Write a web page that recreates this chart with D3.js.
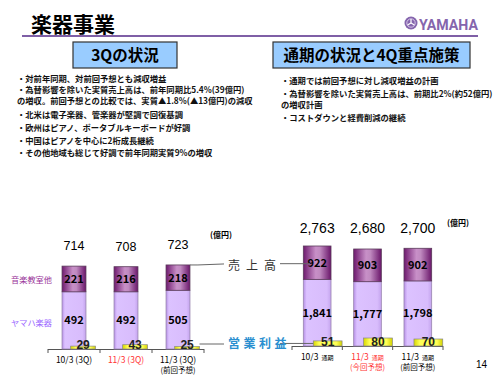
<!DOCTYPE html>
<html>
<head>
<meta charset="utf-8">
<script src="https://cdn.jsdelivr.net/npm/d3@7/dist/d3.min.js"></script>
<style>
  body { margin: 0; background: #fff; }
  svg { font-family: "Noto Sans CJK JP", "Noto Sans", sans-serif; }
</style>
</head>
<body>
<div id="chart"></div>
<script>
// 3Q (left) and full-year (right) figures, 億円
const leftCats = [["10/3 (3Q)"], ["11/3 (3Q)"], ["11/3 (3Q)", "(前回予想)"]]
const leftCatColors = ["#000", "#ff3333", "#000"]
const leftYamaha = [492, 492, 505]
const leftSchool = [221, 216, 218]
const leftTotal = [714, 708, 723]
const leftProfit = [29, 43, 25]

const rightCats = [["10/3", "通期"], ["11/3", "通期", "(今回予想)"], ["11/3", "通期", "(前回予想)"]]
const rightCatColors = ["#000", "#ff3333", "#000"]
const rightYamaha = [1841, 1777, 1798]
const rightSchool = [922, 903, 902]
const rightTotal = ["2,763", "2,680", "2,700"]
const rightTotalNum = [2763, 2680, 2700]
const rightProfit = [51, 80, 70]

const leftBullets = [
    ["・対前年同期、対前回予想とも減収増益"],
    ["・為替影響を除いた実質売上高は、前年同期比5.4%(39億円)", "の増収。前回予想との比較では、実質▲1.8%(▲13億円)の減収"],
    ["・北米は電子楽器、管楽器が堅調で回復基調"],
    ["・欧州はピアノ、ポータブルキーボードが好調"],
    ["・中国はピアノを中心に2桁成長継続"],
    ["・その他地域も総じて好調で前年同期実質9%の増収"]
]
const rightBullets = [
    ["・通期では前回予想に対し減収増益の計画"],
    ["・為替影響を除いた実質売上高は、前期比2%(約52億円)", "の増収計画"],
    ["・コストダウンと経費削減の継続"]
]

const svg = d3.select("#chart").append("svg")
    .attr("width", 500)
    .attr("height", 375)

const defs = svg.append("defs")
function hgrad(id, stops) {
    let g = defs.append("linearGradient").attr("id", id)
        .attr("x1", "0%").attr("x2", "100%").attr("y1", "0%").attr("y2", "0%")
    stops.forEach(s => g.append("stop").attr("offset", s[0]).attr("stop-color", s[1]))
}
hgrad("gSchool", [["0%", "#6e1a6e"], ["45%", "#c890c8"], ["60%", "#c08ac0"], ["100%", "#6a166a"]])
hgrad("gYamaha", [["0%", "#b690e6"], ["12%", "#dcc2ff"], ["85%", "#d8bcfc"], ["100%", "#c4a4ee"]])
hgrad("gProfit", [["0%", "#d6d600"], ["20%", "#ffff55"], ["80%", "#ffff55"], ["100%", "#d0d000"]])

// header
svg.append("text").attr("x", 31).attr("y", 32)
    .attr("font-size", 21).attr("font-weight", "bold").text("楽器事業")
svg.append("line").attr("x1", 22).attr("x2", 478).attr("y1", 36).attr("y2", 36)
    .attr("stroke", "#7f5fa6").attr("stroke-width", 2)

let logo = svg.append("g").attr("transform", "translate(411,23)")
logo.append("circle").attr("r", 6.5).attr("fill", "#8565ad")
logo.append("circle").attr("r", 4.2).attr("fill", "none").attr("stroke", "#e8dcf4").attr("stroke-width", 0.8)
d3.range(3).forEach(i => {
    logo.append("line").attr("y1", 0).attr("y2", -4)
        .attr("transform", `rotate(${i * 120})`)
        .attr("stroke", "#fff").attr("stroke-width", 1.2)
})
svg.append("text").attr("x", 419).attr("y", 30)
    .attr("font-family", "Liberation Sans Narrow, Roboto, sans-serif")
    .attr("font-size", 15).attr("font-weight", "bold").attr("fill", "#8565ad")
    .attr("textLength", 59).attr("lengthAdjust", "spacingAndGlyphs")
    .text("YAMAHA")

// headline boxes
const boxes = [
    { x: 73, w: 104, label: "3Qの状況" },
    { x: 273, w: 197, label: "通期の状況と4Q重点施策" }
]
boxes.forEach(b => {
    svg.append("rect").attr("x", b.x).attr("y", 42).attr("width", b.w).attr("height", 26)
        .attr("fill", "#99ccff").attr("stroke", "#333").attr("stroke-width", 1.2)
    svg.append("text").attr("x", b.x + b.w / 2).attr("y", 61)
        .attr("text-anchor", "middle").attr("font-size", 15.5).attr("font-weight", "bold")
        .text(b.label)
})

// bullet text
function bullets(list, x, ys) {
    let k = 0
    list.forEach(item => {
        item.forEach(line => {
            svg.append("text").attr("x", x).attr("y", ys[k++])
                .attr("font-size", 8.3).attr("font-weight", "bold").attr("fill", "#111")
                .text(line)
        })
    })
}
bullets(leftBullets, 17, [82, 92.5, 104, 118, 131, 143.5, 156])
bullets(rightBullets, 281, [84, 97, 108, 120.5])

// charts
function drawGroup(opt) {
    let x = d3.scaleBand().domain(d3.range(3)).range(opt.xr)
        .paddingInner(opt.pad).paddingOuter(opt.pad / 2)
    let y = d3.scaleLinear().domain([0, opt.ymax]).range([opt.base, opt.base - opt.h])
    let yp = d3.scaleLinear().domain([0, 100]).range([opt.base, opt.base - 10])
    let bw = x.bandwidth()
    let g = svg.append("g")

    // axis line with boundary ticks
    g.append("line").attr("x1", opt.xr[0]).attr("x2", opt.xr[1])
        .attr("y1", opt.base + 0.5).attr("y2", opt.base + 0.5).attr("stroke", "#555")
    d3.range(4).forEach(i => {
        let tx = opt.xr[0] + i * x.step()
        g.append("line").attr("x1", tx).attr("x2", tx)
            .attr("y1", opt.base).attr("y2", opt.base + 4).attr("stroke", "#555")
    })

    opt.yamaha.forEach((v, i) => {
        let s = opt.school[i]
        g.append("rect").attr("x", x(i)).attr("y", y(v)).attr("width", bw)
            .attr("height", opt.base - y(v))
            .attr("fill", "url(#gYamaha)").attr("stroke", "#9a86b0").attr("stroke-width", 0.8)
        g.append("rect").attr("x", x(i)).attr("y", y(v + s)).attr("width", bw)
            .attr("height", y(v) - y(v + s))
            .attr("fill", "url(#gSchool)").attr("stroke", "#5a3a5a").attr("stroke-width", 0.8)

        g.append("text").attr("x", x(i) + bw / 2).attr("y", (y(v) + opt.base) / 2 + 4)
            .attr("text-anchor", "middle").attr("font-size", 11).attr("font-weight", "bold")
            .text(d3.format(",")(v))
        g.append("text").attr("x", x(i) + bw / 2).attr("y", (y(v) + y(v + s)) / 2 + 4)
            .attr("text-anchor", "middle").attr("font-size", 11).attr("font-weight", "bold")
            .text(s)

        // total
        g.append("text").attr("x", x(i) + bw / 2)
            .attr("y", opt.totalY ? opt.totalY : y(opt.totalNum[i]) - 16)
            .attr("text-anchor", "middle").attr("font-size", opt.totalSize)
            .attr("font-family", "Liberation Sans, Arial, sans-serif")
            .attr("font-weight", opt.totalWeight)
            .text(opt.total[i])

        // operating profit
        let p = opt.profit[i]
        g.append("rect").attr("x", x(i) + bw * 0.36).attr("y", yp(p)).attr("width", bw * 1.04)
            .attr("height", opt.base - yp(p))
            .attr("fill", "url(#gProfit)").attr("stroke", "#888").attr("stroke-width", 0.7)
        g.append("text").attr("x", x(i) + bw * 0.88).attr("y", opt.base)
            .attr("text-anchor", "middle").attr("font-size", 12).attr("font-weight", "bold")
            .attr("font-family", "Liberation Sans, Arial, sans-serif")
            .attr("fill", "#222")
            .text(p)

        // category labels
        let c = opt.cats[i]
        let t = g.append("text").attr("x", x(i) + bw / 2).attr("y", opt.base + 14)
            .attr("text-anchor", "middle").attr("font-size", 8.5).attr("fill", opt.catColors[i])
        if (opt.fullYear) {
            t.append("tspan").text(c[0])
            t.append("tspan").attr("dx", 3).attr("font-size", 6).text(c[1])
            if (c[2]) {
                g.append("text").attr("x", x(i) + bw / 2).attr("y", opt.base + 24)
                    .attr("text-anchor", "middle").attr("font-size", 7.5).attr("fill", opt.catColors[i])
                    .text(c[2])
            }
        } else {
            t.text(c[0])
            if (c[1]) {
                g.append("text").attr("x", x(i) + bw / 2).attr("y", opt.base + 24)
                    .attr("text-anchor", "middle").attr("font-size", 7.5).attr("fill", opt.catColors[i])
                    .text(c[1])
            }
        }
    })
    return { x: x, y: y, yp: yp, bw: bw }
}

let L = drawGroup({
    xr: [48, 204], pad: 0.54, base: 349, ymax: 714, h: 83,
    yamaha: leftYamaha, school: leftSchool, total: leftTotal, totalNum: leftTotal,
    totalSize: 12.5, totalWeight: "normal",
    profit: leftProfit, cats: leftCats, catColors: leftCatColors, fullYear: false
})
let R = drawGroup({
    xr: [292, 443], pad: 0.45, base: 346, ymax: 2763, h: 100, totalY: 233,
    yamaha: rightYamaha, school: rightSchool, total: rightTotal, totalNum: rightTotalNum,
    totalSize: 14, totalWeight: "normal",
    profit: rightProfit, cats: rightCats, catColors: rightCatColors, fullYear: true
})

// unit labels
svg.append("text").attr("x", 210).attr("y", 238).attr("font-size", 8).attr("font-weight", "bold").text("(億円)")
svg.append("text").attr("x", 447).attr("y", 226).attr("font-size", 8).attr("font-weight", "bold").text("(億円)")

// series labels on the left
svg.append("text").attr("x", 11).attr("y", 283).attr("font-size", 8.2).attr("fill", "#993399").text("音楽教室他")
svg.append("text").attr("x", 11).attr("y", 326).attr("font-size", 8.2).attr("fill", "#9966ff").text("ヤマハ楽器")

// leader lines between the two groups
let salesL = L.y(leftTotal[2])
let salesR = (R.y(rightYamaha[0]) + R.y(rightYamaha[0] + rightSchool[0])) / 2
let lx3 = L.x(2) + L.bw
svg.append("polyline")
    .attr("points", `${lx3},${salesL} ${lx3 + 8},${salesL} ${224},${salesL - 1}`)
    .attr("fill", "none").attr("stroke", "#666")
svg.append("line").attr("x1", 280).attr("x2", R.x(0) + R.bw * 0.25)
    .attr("y1", salesR + 1).attr("y2", salesR + 1).attr("stroke", "#666")
svg.append("text").attr("x", 228).attr("y", 270).attr("font-size", 12)
    .attr("letter-spacing", 6).attr("fill", "#333").text("売上高")

let profR = (R.yp(rightProfit[0]) + 346) / 2
svg.append("line").attr("x1", L.x(2) + L.bw * 1.4).attr("x2", 224)
    .attr("y1", 344).attr("y2", 344).attr("stroke", "#666")
svg.append("line").attr("x1", 280).attr("x2", R.x(0) + R.bw * 0.36)
    .attr("y1", profR).attr("y2", profR).attr("stroke", "#666")
svg.append("text").attr("x", 228).attr("y", 348).attr("font-size", 12)
    .attr("letter-spacing", 3.5).attr("font-weight", "bold").attr("fill", "#2a8fd0").text("営業利益")

svg.append("text").attr("x", 476).attr("y", 368).attr("font-size", 10)
    .attr("font-family", "Liberation Sans, Arial, sans-serif").text("14")
</script>
</body>
</html>
